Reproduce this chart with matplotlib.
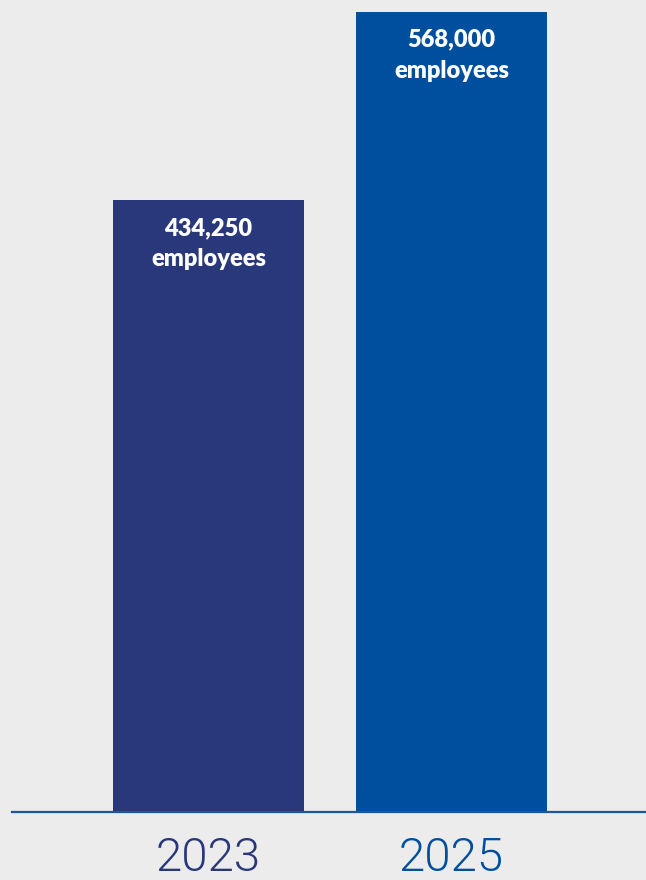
import matplotlib
matplotlib.use("Agg")
import matplotlib.pyplot as plt

years = ["2023", "2025"]
employees = [434250, 568000]
value_labels = ["434,250", "568,000"]
unit_label = "employees"
bar_colors = ["#29377b", "#004f9f"]

W, H = 646, 880
fig = plt.figure(figsize=(W / 100, H / 100), dpi=100, facecolor="#ececec")

# axes: left at 12px, right at the figure edge, baseline 812px from top
base_px = 812
ax = fig.add_axes([12 / W, (H - base_px) / H, 1 - 12 / W, base_px / H])
ax.set_facecolor("#ececec")

pitch = 243.0
xs = list(range(len(years)))
ax.bar(xs, employees, width=191 / pitch, color=bar_colors, zorder=2)
ax.set_xlim((12 - 208.5) / pitch, (646 - 208.5) / pitch)
ax.set_ylim(0, employees[1] * base_px / (base_px - 12))

for s in ax.spines.values():
    s.set_visible(False)
ax.axhline(0, color="#1b57a3", lw=1.6, zorder=3, clip_on=False)
ax.set_xticks([])
ax.set_yticks([])

for x, v, lab, c, yr in zip(xs, employees, value_labels, bar_colors, years):
    ax.annotate(lab, (x, v), xytext=(0, -20), textcoords="offset points",
                ha="center", va="center", color="white", fontsize=17,
                fontweight="heavy", family="Lato")
    ax.annotate(unit_label, (x, v), xytext=(0, -42.5), textcoords="offset points",
                ha="center", va="center", color="white", fontsize=17,
                fontweight="heavy", family="Lato")
    ax.annotate(yr, (x, 0), xytext=(0, -33), textcoords="offset points",
                ha="center", va="center", color=c, fontsize=34,
                fontweight=300, family="Roboto", annotation_clip=False)

fig.savefig("out.png", dpi=100, facecolor=fig.get_facecolor())
